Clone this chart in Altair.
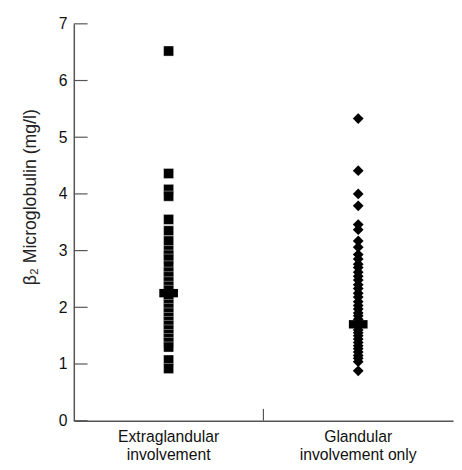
import altair as alt
import pandas as pd

# Data
extra_values = [6.52, 4.36, 4.08, 3.96, 3.55, 3.35, 3.17, 3.0, 2.92, 2.85, 2.73, 2.62,
                2.54, 2.45, 2.37, 2.3, 2.2, 2.12, 2.05, 1.98, 1.9, 1.82, 1.75, 1.68,
                1.6, 1.52, 1.45, 1.38, 1.3, 1.07, 0.92]
gland_values = [5.33, 4.41, 4.0, 3.79, 3.46, 3.37, 3.17, 3.06, 2.93, 2.85, 2.76, 2.7,
                2.62, 2.55, 2.48, 2.4, 2.33, 2.25, 2.18, 2.1, 2.03, 1.97, 1.9, 1.85,
                1.79, 1.72, 1.66, 1.6, 1.55, 1.5, 1.44, 1.38, 1.32, 1.27, 1.21, 1.15,
                1.1, 1.04, 0.88]
medians = [2.25, 1.7]
group_pos = [1, 3]
label_line1 = ["Extraglandular", "Glandular"]
label_line2 = ["involvement", "involvement only"]
y_ticks = [0, 1, 2, 3, 4, 5, 6, 7]
separator = [2]

FONT = "Liberation Sans"

df_extra = pd.DataFrame({"x": group_pos[0], "v": extra_values})
df_gland = pd.DataFrame({"x": group_pos[1], "v": gland_values})
df_med = pd.DataFrame({"x": group_pos, "v": medians})
df_ticks = pd.DataFrame({"v": y_ticks})
df_sep = pd.DataFrame({"x": separator})
df_lab = pd.DataFrame({"x": group_pos, "l1": label_line1, "l2": label_line2})

xscale = alt.Scale(domain=[0, 4], nice=False, zero=False)
yscale = alt.Scale(domain=[0, 7], nice=False)

x_axis = alt.Axis(values=group_pos, labels=False, ticks=False, grid=False,
                  title=None, domainColor="#555", domainWidth=1.5)
y_axis = alt.Axis(values=y_ticks, format="d", ticks=False, grid=False, labelFont=FONT,
                  labelFontSize=16, labelColor="#111", labelPadding=7,
                  title="β₂ Microglobulin (mg/l)", titleFont=FONT, titleFontSize=18,
                  titleFontWeight="normal", titleColor="#222", titleX=-44, titleY=176,
                  titleBaseline="middle", titleAngle=-90, titleAlign="center",
                  domainColor="#555", domainWidth=1.5)

extra = alt.Chart(df_extra).mark_point(shape="square", filled=True, size=105, opacity=1,
                                        color="black", stroke="white", strokeWidth=0.4).encode(
    x=alt.X("x:Q", scale=xscale, axis=x_axis),
    y=alt.Y("v:Q", scale=yscale, axis=y_axis),
)
gland = alt.Chart(df_gland).mark_point(shape="diamond", filled=True, size=120, opacity=1,
                                        color="black").encode(
    x=alt.X("x:Q", scale=xscale),
    y=alt.Y("v:Q", scale=yscale),
)
med = alt.Chart(df_med).mark_point(shape="M-1,-0.45L1,-0.45L1,0.45L-1,0.45Z", filled=True,
                                    size=361, opacity=1, color="black").encode(
    x=alt.X("x:Q", scale=xscale),
    y=alt.Y("v:Q", scale=yscale),
)
yt = alt.Chart(df_ticks).mark_rule(color="#555", strokeWidth=1.2).encode(
    x=alt.value(0), x2=alt.value(14), y=alt.Y("v:Q", scale=yscale)
)
sep = alt.Chart(df_sep).mark_rule(color="#555", strokeWidth=1.2).encode(
    x=alt.X("x:Q", scale=xscale), y=alt.value(404), y2=alt.value(392)
)
lab1 = alt.Chart(df_lab).mark_text(font=FONT, fontSize=16, color="#111",
                                   baseline="alphabetic", align="center").encode(
    x=alt.X("x:Q", scale=xscale), y=alt.value(426), text="l1:N"
)
lab2 = alt.Chart(df_lab).mark_text(font=FONT, fontSize=16, color="#111",
                                   baseline="alphabetic", align="center").encode(
    x=alt.X("x:Q", scale=xscale), y=alt.value(444), text="l2:N"
)

chart = alt.layer(extra, gland, med, yt, sep, lab1, lab2).properties(
    width=386, height=404,
    padding={"left": 67, "top": 12, "right": 1, "bottom": 42},
    autosize=alt.AutoSizeParams(type="none"),
    background="white",
).configure_view(stroke=None)

chart.save("out.html", embed_options={"renderer": "svg", "actions": False})
